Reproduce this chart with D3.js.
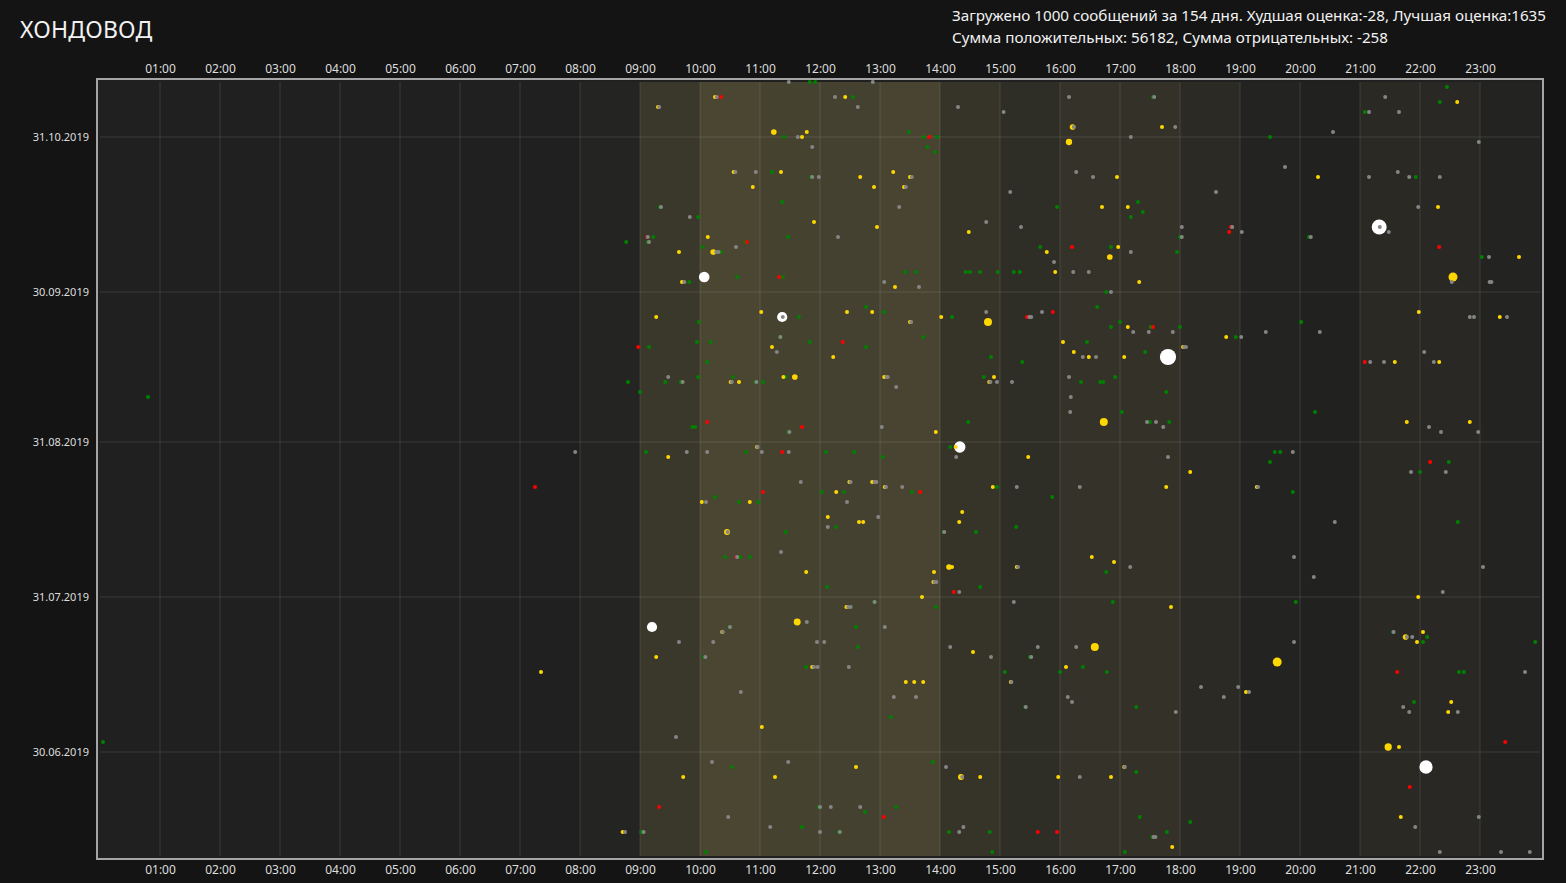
<!DOCTYPE html>
<html>
<head>
<meta charset="utf-8">
<script src="https://cdn.jsdelivr.net/npm/d3@7"></script>
<style>
  html, body { margin: 0; background: #141414; overflow: hidden; }
  text { font-family: "Noto Sans", sans-serif; }
</style>
</head>
<body>
<svg id="chart" width="1566" height="883"></svg>
<script>
// every message: [hour of day, day of 2019 (1 = 1 Jan)]
// score 0 messages
const zeroMsgs = [
  [11.48,315],[12.88,315],[10.28,312],[12.25,312],[9.32,310],[12.63,310],[11.63,304],[11.87,302],[10.59,297],[10.93,297],
  [11.87,296],[11.98,296],[13.32,290],[9.35,290],[9.83,288],[9.13,284],[9.15,283],[12.3,284],[10.6,282],[10.27,281],
  [10.31,281],[9.74,275],[13.07,275],[11.38,268],[11.34,264],[11.28,261],[9.47,256],[9.71,255],[10.53,255],[10.94,255],
  [13.11,256],[13.13,256],[13.27,254],[11.49,245],[13.03,246],[10.96,242],[9.78,241],[10.12,241],[11.03,241],[11.48,241],
  [16.15,312],[17.57,312],[14.3,310],[15.06,309],[16.23,306],[17.92,306],[17.18,304],[13.53,296],[13.43,294],[15.17,293],
  [16.27,297],[16.55,296],[18.6,293],[14.77,287],[15.35,286],[18.03,286],[18.03,284],[17.18,281],[15.9,279],[16.22,277],
  [16.48,277],[13.65,274],[16.85,273],[14.77,269],[15.49,268],[15.52,268],[15.7,269],[13.52,267],[17.22,265],[17.48,265],
  [17.88,265],[18.07,262],[18.1,262],[16.38,260],[16.6,260],[14.84,255],[14.95,255],[15.2,255],[16.15,256],[16.18,252],
  [16.17,249],[17.45,247],[17.6,247],[17.72,246],[14.27,240],[17.8,240],
  [21.42,312],[21.15,309],[21.65,309],[20.55,305],[22.98,303],[19.75,298],[21.15,296],[21.63,297],[21.82,296],[22.33,296],
  [21.97,290],[21.33,286],[21.48,285],[18.87,286],[19.03,285],[20.18,284],[23.15,280],[22.53,275],[23.16,275],[23.19,275],
  [22.83,268],[22.9,268],[23.45,268],[19.43,265],[20.33,265],[19.02,264],[22.07,261],[21.17,259],[21.4,259],[22.23,259],
  [22.15,246],[22.35,245],[22.97,245],[19.88,241],
  [11.68,235],[12.51,235],[12.91,235],[12.94,235],[13.1,234],[10.1,231],[12.45,231],[12.97,228],[12.13,226],[10.46,225],
  [11.35,221],[10.62,220],[12.91,211],[12.47,210],[12.51,210],[10.38,205],[10.5,206],[11.78,207],[13.08,206],[9.65,203],
  [10.22,203],[11.95,203],[12.07,203],[10.09,200],[11.9,198],[11.96,198],[12.48,198],[10.68,193],[13.23,192],[9.6,184],
  [10.2,179],[11.47,179],[12.0,170],[12.18,170],[12.67,170],[10.47,168],[11.17,166],[12.0,165],[12.33,165],[8.75,165],[9.06,165],
  [13.37,234],[15.28,234],[16.33,234],[14.07,225],[17.17,218],[15.3,218],[13.91,215],[13.94,215],[14.32,213],[15.23,211],
  [14.17,202],[14.85,200],[15.63,202],[15.52,200],[16.27,202],[15.19,195],[13.6,192],[16.13,192],[16.2,191],[15.43,190],
  [17.93,189],[18.35,194],[14.1,178],[14.37,176],[16.33,176],[17.08,178],[14.39,166],[14.32,165],[17.56,164],[17.59,164],
  [21.85,237],[22.43,237],[19.3,234],[20.58,227],[19.9,220],[20.23,216],[23.05,218],[22.38,213],[21.56,205],[21.78,204],
  [21.87,204],[19.9,203],[23.75,197],[18.97,194],[18.73,192],[19.15,193],[21.72,190],[21.82,189],[22.63,189],[22.98,168],
  [21.92,166],[22.33,161],[23.35,161],[23.83,161],[7.92,241]
];

// small positive score
const lowMsgs = [
  [11.83,315],[11.92,315],[12.55,312],[11.4,304],[11.2,297],[11.85,296],[11.37,291],[9.33,290],[9.97,288],[8.77,283],
  [9.22,284],[9.13,283],[10.75,283],[11.47,284],[10.05,282],[10.35,281],[9.82,275],[10.62,276],[11.38,276],[12.77,270],
  [13.07,269],[11.65,268],[9.98,267],[11.33,264],[9.95,263],[10.18,263],[11.83,263],[9.15,262],[12.77,262],[10.12,259],
  [8.8,255],[9.42,255],[9.68,255],[9.97,256],[10.55,256],[10.92,255],[11.05,255],[11.43,256],[9.0,253],[9.87,246],
  [9.92,246],[11.47,245],[9.1,241],[10.77,241],[12.1,241],[12.57,241],[13.05,240],
  [17.55,312],[13.48,305],[13.73,304],[13.95,304],[13.79,302],[13.92,301],[15.95,290],[17.3,291],[17.38,289],[17.18,288],
  [18.0,284],[15.67,282],[16.85,282],[17.95,281],[13.42,277],[13.6,277],[14.43,277],[14.5,277],[14.67,277],[14.96,277],
  [15.23,277],[15.33,277],[16.77,273],[16.62,270],[14.2,268],[13.72,264],[16.85,266],[17.0,267],[17.51,266],[18.0,266],
  [16.45,263],[17.42,261],[14.85,260],[15.37,259],[14.73,256],[16.35,255],[16.67,255],[16.72,255],[16.92,256],[17.77,253],
  [17.03,249],[14.47,247],[17.5,247],[17.82,247],[14.17,242],
  [22.45,314],[22.33,311],[21.08,309],[19.5,304],[21.93,296],[20.15,284],[23.03,280],[20.02,267],[18.93,264],[20.25,249],
  [19.58,241],[19.67,241],[19.5,239],[22.48,239],
  [10.25,232],[10.65,231],[10.97,231],[12.03,233],[12.4,233],[12.27,226],[11.43,225],[10.42,220],[10.67,220],[10.83,220],
  [12.12,214],[12.9,211],[12.51,210],[10.49,206],[12.6,206],[12.63,202],[10.07,200],[11.77,198],[13.18,188],[10.53,178],
  [11.98,170],[12.75,169],[13.27,170],[11.7,166],[12.31,165],[9.02,165],[10.1,161],
  [13.53,233],[14.95,234],[15.87,232],[14.06,225],[14.6,225],[15.27,226],[16.77,217],[14.67,214],[13.93,210],[16.88,211],
  [15.5,200],[16.38,198],[16.0,197],[16.78,197],[15.08,197],[15.42,190],[17.27,190],[13.88,179],[17.27,177],[17.33,168],
  [18.17,167],[14.15,165],[14.83,165],[17.78,165],[17.54,164],[14.87,161],[17.08,161],
  [22.0,237],[19.88,233],[22.63,227],[19.93,211],[21.55,205],[22.12,204],[22.05,203],[23.92,203],[22.65,197],[22.73,197],
  [21.9,191],[0.8,252],[0.05,183]
];

// negative score
const negMsgs = [
  [10.35,312],[9.12,284],[10.78,283],[11.32,276],[12.38,263],[8.97,262],[10.12,247],[11.7,246],[11.37,241],
  [13.82,304],[16.2,282],[15.45,268],[15.88,269],[17.55,266],
  [18.85,286],[18.82,285],[22.32,282],[21.08,259],[22.17,239],
  [11.05,233],[10.61,220],[9.32,170],[13.06,168],
  [13.67,233],[14.23,213],[15.63,165],[15.95,165],
  [21.62,197],[23.42,183],[21.83,174],[7.25,234]
];

// high score: [hour, day, score]
const topMsgs = [
  [10.25,312,40],[12.42,312,40],[9.3,310,40],[11.23,305,200],[11.7,304,40],[11.78,305,40],[10.56,297,40],[11.35,297,40],
  [12.67,296,40],[13.22,297,40],[12.9,294,40],[10.88,294,40],[11.9,287,40],[12.95,286,40],[10.13,284,40],[9.65,281,40],
  [10.22,281,200],[10.07,276,700],[9.7,275,40],[13.25,274,40],[12.87,269,40],[12.45,269,40],[11.37,268,650],[11.02,269,40],
  [9.27,268,40],[11.2,262,40],[12.22,260,40],[10.51,255,40],[10.65,255,40],[11.39,256,40],[11.58,256,200],[13.07,256,40],
  [10.95,242,40],[9.47,240,40],
  [16.21,306,200],[16.15,303,250],[17.7,306,40],[13.5,296,40],[13.4,294,40],[16.95,296,40],[16.7,290,40],[17.13,290,40],
  [14.48,285,40],[15.78,281,40],[16.97,282,40],[16.83,280,200],[15.92,277,40],[17.32,275,40],[13.5,267,40],[14.02,268,40],
  [14.8,267,400],[17.13,266,40],[16.05,263,40],[16.23,261,40],[16.48,260,40],[17.07,260,40],[17.8,260,1635],[18.05,262,40],
  [14.9,256,40],[14.82,255,40],[16.73,247,400],[13.93,245,40],[14.26,242,40],[14.33,242,800],[15.47,240,40],
  [22.62,311,40],[20.3,296,40],[22.3,290,40],[21.32,286,1400],[23.65,280,40],[22.55,276,500],[21.98,269,40],[23.33,268,40],
  [18.77,264,40],[21.58,259,40],[22.32,259,40],[21.78,247,40],[22.83,247,40],
  [12.49,235,40],[12.87,235,40],[13.08,234,40],[12.27,233,40],[10.03,231,40],[10.83,231,40],[12.13,228,40],[12.65,227,40],
  [12.72,227,40],[10.45,225,220],[11.77,217,40],[12.44,210,40],[9.2,206,650],[10.37,205,40],[11.62,207,300],[9.27,200,40],
  [11.87,198,40],[11.03,186,40],[12.6,178,40],[9.72,176,40],[11.25,176,40],[8.71,165,40],
  [18.17,237,40],[14.88,234,40],[17.77,234,40],[14.37,229,40],[14.32,227,40],[16.53,220,40],[16.9,219,40],[14.15,218,200],
  [14.2,218,40],[15.28,218,40],[13.9,217,40],[13.89,215,40],[13.7,212,40],[17.85,210,40],[14.55,201,40],[16.58,202,400],
  [16.1,198,40],[13.43,195,40],[13.57,195,40],[13.72,195,40],[15.18,195,40],[14.35,176,220],[14.67,176,40],[15.97,176,40],
  [16.85,176,40],[17.07,178,40],[17.87,162,40],
  [19.28,234,40],[21.97,212,40],[22.05,205,40],[21.76,204,200],[21.95,203,40],[19.62,199,500],[19.1,193,40],[22.52,191,40],
  [22.47,189,40],[21.47,182,330],[21.65,182,40],[22.1,178,1100],[21.68,168,40],[7.35,197,40]
];

// how busy each hour of the day is (0..1), shown as the column tint
const hourLoad = [0, 0, 0, 0, 0, 0, 0, 0, 0.1, 0.62, 1, 0.9, 0.88, 0.95, 0.52, 0.33, 0.48, 0.45, 0.26, 0.07, 0.02, 0.24, 0.21, 0.07];

const hourTicks = [1, 2, 3, 4, 5, 6, 7, 8, 9, 10, 11, 12, 13, 14, 15, 16, 17, 18, 19, 20, 21, 22, 23];
const dateTicks = ["2019-06-30", "2019-07-31", "2019-08-31", "2019-09-30", "2019-10-31"];
const dayRange = [160.2, 315];

const title = "ХОНДОВОД";
const stats = [
  "Загружено 1000 сообщений за 154 дня. Худшая оценка:-28, Лучшая оценка:1635",
  "Сумма положительных: 56182, Сумма отрицательных: -258"
];

const toDate = d => new Date(2019, 0, 1, 0, Math.round((d - 1) * 1440));
const parseDay = d3.timeParse("%Y-%m-%d");

const svg = d3.select("#chart");

const x = d3.scaleLinear().domain([0, 24]).range([100, 1540]);
const y = d3.scaleTime().domain(dayRange.map(toDate)).range([856, 82]);
const r = d3.scaleSqrt().domain([0, 1635]).range([0, 8.1]);
const color = d3.scaleThreshold()
  .domain([0, 1, 20, 600])
  .range(["#ff0000", "#858585", "#008000", "#ffd700", "#ffffff"]);
const shade = d3.scaleLinear().domain([0, 1]).range(["#202020", "#4a4632"]);

// plot frame
svg.append("rect")
  .attr("x", 97).attr("y", 79)
  .attr("width", 1446).attr("height", 780)
  .attr("fill", "#202020")
  .attr("stroke", "#a5a5a5")
  .attr("stroke-width", 2);

// hour columns
svg.append("g")
  .selectAll("rect")
  .data(hourLoad)
  .join("rect")
  .attr("x", (d, i) => x(i))
  .attr("width", (d, i) => x(i + 1) - x(i))
  .attr("y", y.range()[1])
  .attr("height", y.range()[0] - y.range()[1])
  .attr("fill", d => shade(d));

// grid
svg.append("g")
  .selectAll("line")
  .data(hourTicks)
  .join("line")
  .attr("x1", d => x(d)).attr("x2", d => x(d))
  .attr("y1", y.range()[1]).attr("y2", y.range()[0])
  .attr("stroke", "rgba(255,255,255,0.075)")
  .attr("stroke-width", 1.5);

svg.append("g")
  .selectAll("line")
  .data(dateTicks)
  .join("line")
  .attr("x1", x(0)).attr("x2", x(24))
  .attr("y1", d => y(parseDay(d))).attr("y2", d => y(parseDay(d)))
  .attr("stroke", "rgba(255,255,255,0.075)")
  .attr("stroke-width", 1.5);

// messages
const rank = { "#008000": 0, "#ffd700": 1, "#ff0000": 2, "#858585": 3, "#ffffff": 0 };
const msgs = [
  ...zeroMsgs.map(d => ({ hour: d[0], day: d[1], score: 0 })),
  ...lowMsgs.map(d => ({ hour: d[0], day: d[1], score: 5 })),
  ...negMsgs.map(d => ({ hour: d[0], day: d[1], score: -5 })),
  ...topMsgs.map(d => ({ hour: d[0], day: d[1], score: d[2] }))
];
const radius = d => Math.max(2, r(Math.abs(d.score)));
msgs.sort((a, b) => radius(b) - radius(a) || rank[color(a.score)] - rank[color(b.score)]);

svg.append("g")
  .selectAll("circle")
  .data(msgs)
  .join("circle")
  .attr("cx", d => x(d.hour))
  .attr("cy", d => y(toDate(d.day)))
  .attr("r", radius)
  .attr("fill", d => color(d.score));

// axes
const hourFmt = h => String(h).padStart(2, "0") + ":00";

const styleAxis = g => {
  g.select(".domain").remove();
  g.attr("font-family", "Roboto, sans-serif").attr("font-size", 12);
  g.selectAll("text").attr("fill", "#dedede");
};

svg.append("g")
  .attr("transform", "translate(0,79)")
  .call(d3.axisTop(x).tickValues(hourTicks).tickFormat(hourFmt).tickSize(0).tickPadding(6))
  .call(styleAxis);

svg.append("g")
  .attr("transform", "translate(0,859)")
  .call(d3.axisBottom(x).tickValues(hourTicks).tickFormat(hourFmt).tickSize(0).tickPadding(6))
  .call(styleAxis);

svg.append("g")
  .attr("transform", "translate(97,0)")
  .call(d3.axisLeft(y).tickValues(dateTicks.map(parseDay)).tickFormat(d3.timeFormat("%d.%m.%Y")).tickSize(0).tickPadding(8))
  .call(styleAxis)
  .attr("font-size", 11);

// headings
svg.append("text")
  .attr("x", 20).attr("y", 38)
  .attr("fill", "#f2f2f2")
  .attr("font-size", 23)
  .attr("letter-spacing", 0.2)
  .text(title);

svg.append("g")
  .selectAll("text")
  .data(stats)
  .join("text")
  .attr("x", 952)
  .attr("y", (d, i) => 21 + i * 22)
  .attr("fill", "#f2f2f2")
  .attr("font-size", 15.2)
  .text(d => d);
</script>
</body>
</html>
